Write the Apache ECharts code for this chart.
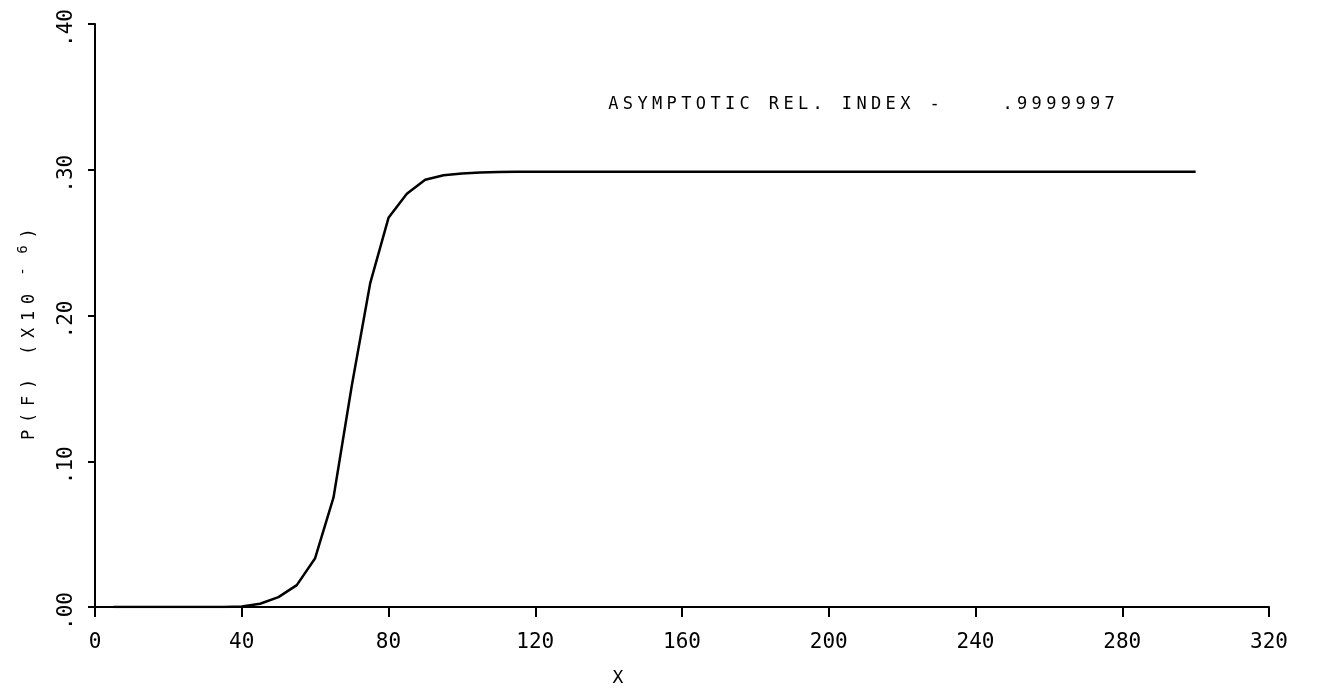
<!DOCTYPE html>
<html>
<head>
<meta charset="utf-8">
<title>P(F) vs X</title>
<script src="https://cdn.jsdelivr.net/npm/echarts@6/dist/echarts.min.js"></script>
<style>
  html, body { margin: 0; padding: 0; background: #fff; }
  #chart { width: 1319px; height: 692px; }
</style>
</head>
<body>
<div id="chart"></div>
<script>
// X values of the plotted curve
const xValues = [
  5, 10, 15, 20, 25, 30, 35, 40, 45, 50,
  55, 60, 65, 70, 75, 80, 85, 90, 95, 100,
  105, 110, 115, 120, 125, 130, 135, 140, 145, 150,
  155, 160, 165, 170, 175, 180, 185, 190, 195, 200,
  205, 210, 215, 220, 225, 230, 235, 240, 245, 250,
  255, 260, 265, 270, 275, 280, 285, 290, 295, 300
];

// P(F) in units of 1e-6
const pValues = [
  0, 0, 0, 0, 0, 0, 0, 0.0004, 0.0022, 0.0068,
  0.0150, 0.0335, 0.0750, 0.1520, 0.2220, 0.2670, 0.2835, 0.2932, 0.2962, 0.2975,
  0.2981, 0.2984, 0.2986, 0.2986, 0.2986, 0.2986, 0.2986, 0.2986, 0.2986, 0.2986,
  0.2986, 0.2986, 0.2986, 0.2986, 0.2986, 0.2986, 0.2986, 0.2986, 0.2986, 0.2986,
  0.2986, 0.2986, 0.2986, 0.2986, 0.2986, 0.2986, 0.2986, 0.2986, 0.2986, 0.2986,
  0.2986, 0.2986, 0.2986, 0.2986, 0.2986, 0.2986, 0.2986, 0.2986, 0.2986, 0.2986
];

const xTickLabels = ['0', '40', '80', '120', '160', '200', '240', '280', '320'];
const yTickLabels = ['.00', '.10', '.20', '.30', '.40'];

const yAxisTitle = 'P(F) (X10';
const yAxisExponent = '-6';
const xAxisTitle = 'X';
const indexCaption = 'ASYMPTOTIC REL. INDEX -';
const indexValue = '.9999997';

const MONO = 'DejaVu Sans Mono';

// Plotter-style lettering: every character sits in a fixed-width cell
function spaced(str, styleName) {
  return str.split('').map(c => '{' + styleName + '|' + c + '}').join('');
}

const chart = echarts.init(document.getElementById('chart'), null, { renderer: 'canvas' });

const option = {
  backgroundColor: '#ffffff',
  animation: false,
  grid: { left: 95, right: 50, top: 24, bottom: 85, containLabel: false },
  xAxis: {
    type: 'value',
    min: 0,
    max: 320,
    interval: 40,
    splitLine: { show: false },
    axisLine: { show: true, onZero: false, lineStyle: { color: '#000', width: 2 } },
    axisTick: { show: true, inside: false, length: 10, lineStyle: { color: '#000', width: 2 } },
    axisLabel: {
      show: true,
      margin: 25,
      color: '#000',
      fontFamily: MONO,
      fontSize: 21,
      showMinLabel: true,
      showMaxLabel: true,
      formatter: (v, i) => xTickLabels[i]
    }
  },
  yAxis: {
    type: 'value',
    min: 0,
    max: 0.4,
    interval: 0.1,
    splitLine: { show: false },
    axisLine: { show: true, onZero: false, lineStyle: { color: '#000', width: 2 } },
    axisTick: { show: true, inside: false, length: 7, lineStyle: { color: '#000', width: 2 } },
    axisLabel: {
      show: true,
      rotate: 90,
      margin: 18,
      padding: [0, 8, 0, 0],
      color: '#000',
      fontFamily: MONO,
      fontSize: 21,
      showMinLabel: true,
      showMaxLabel: true,
      formatter: (v, i) => yTickLabels[i]
    }
  },
  series: [{
    type: 'line',
    data: xValues.map((x, i) => [x, pValues[i]]),
    showSymbol: false,
    smooth: false,
    lineStyle: { color: '#000', width: 2.5 },
    silent: true
  }],
  graphic: [
    {
      type: 'text',
      x: 606,
      y: 105,
      silent: true,
      style: {
        text: spaced(indexCaption + '    ' + indexValue, 'c'),
        align: 'left',
        verticalAlign: 'middle',
        rich: {
          c: { fontFamily: MONO, fontSize: 17, width: 14.6, align: 'center', fill: '#000' }
        }
      }
    },
    {
      type: 'text',
      x: 27,
      y: 336,
      rotation: Math.PI / 2,
      silent: true,
      style: {
        text: spaced(yAxisTitle, 'n') + '{g| }' + spaced(yAxisExponent, 's') + '{e|)}',
        align: 'center',
        verticalAlign: 'middle',
        rich: {
          n: { fontFamily: MONO, fontSize: 17, width: 17, align: 'center', verticalAlign: 'bottom', lineHeight: 22, fill: '#000' },
          g: { fontFamily: MONO, fontSize: 17, width: 8, align: 'center', verticalAlign: 'bottom', lineHeight: 22, fill: '#000' },
          s: { fontFamily: MONO, fontSize: 14, width: 22, align: 'center', verticalAlign: 'top', lineHeight: 14, fill: '#000' },
          e: { fontFamily: MONO, fontSize: 17, width: 10, align: 'center', verticalAlign: 'bottom', lineHeight: 22, fill: '#000' }
        }
      }
    },
    {
      type: 'text',
      x: 618,
      y: 678,
      silent: true,
      style: {
        text: xAxisTitle,
        align: 'center',
        verticalAlign: 'middle',
        fontFamily: MONO,
        fontSize: 18,
        fill: '#000'
      }
    }
  ]
};

chart.setOption(option);
</script>
</body>
</html>
